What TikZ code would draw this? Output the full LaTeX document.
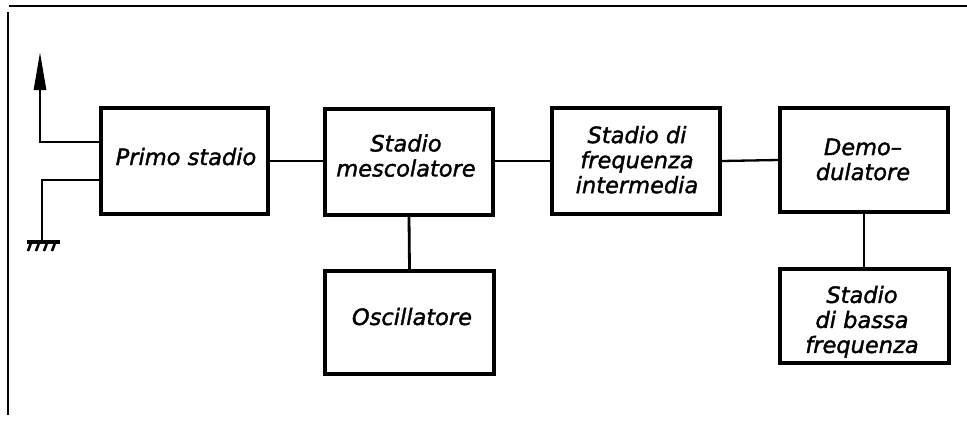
\documentclass[tikz,border=0pt]{standalone}
\usepackage{fontspec}
\setmainfont{DejaVu Sans}[ItalicFeatures={FakeBold=1.6}]
\usetikzlibrary{arrows.meta}
\tikzset{
  blk/.style={draw, line width=3.2pt, inner sep=0pt, minimum width=#1},
  lbl/.style={font=\fontsize{22.5}{25}\selectfont\itshape, align=center, inner sep=0pt},
  wire/.style={line width=2.8pt},
}
\begin{document}
\begin{tikzpicture}[x=1pt,y=-1pt]
\useasboundingbox (0,0) rectangle (967,421);
% frame
\draw[line width=2.4pt] (9,6) -- (967,6);
\draw[line width=2.4pt] (8,12) -- (8,415);
% boxes
\node[blk=167pt, minimum height=106pt] (primo) at (184.5,161) {};
\node[blk=168pt, minimum height=106pt] (mesc) at (409,162) {};
\node[blk=169pt, minimum height=103pt] (osc) at (409.5,322.5) {};
\node[blk=168pt, minimum height=106pt] (freq) at (636,161) {};
\node[blk=168pt, minimum height=104pt] (demo) at (864,160) {};
\node[blk=169pt, minimum height=94pt] (bassa) at (864.5,316) {};
% labels
\node[lbl, anchor=base] (tprimo) at (186,165) {Primo stadio};
\node[lbl] (tmesc) at (406,155.6) {Stadio\\mescolatore};
\node[lbl] (tosc) at (412,316.6) {Oscillatore};
\node[lbl] (tfreq) at (637,159.7) {Stadio di\\frequenza\\intermedia};
\node[lbl] (tdemo) at (863,159.5) {Demo–\\dulatore};
\node[lbl] (tbassa) at (862,321.7) {Stadio\\di bassa\\frequenza};
% connectors
\draw[wire] (primo.east) -- (primo.east -| mesc.west);
\draw[wire, line width=2.3pt] (mesc.east |- freq.east) -- (freq.west);
\draw[wire, line width=2.3pt] (freq.east) -- (demo.west);
\draw[wire] (mesc.south) -- (osc.north);
\draw[wire] (demo.south) -- (demo.south |- bassa.north);
% antenna
\coordinate (ya) at (0,142);
\coordinate (ab) at (40,142);
\coordinate (atip) at (40,52);
\draw[wire, -{Triangle[width=12pt,length=38pt]}] (primo.west |- ya) -- (ab) -- (atip);
% ground
\coordinate (yg) at (0,180);
\coordinate (gnd) at (42,242);
\draw[wire] (primo.west |- yg) -| (gnd);
\draw[line width=3.2pt] (27,242) -- (60,242);
\foreach \x in {31,39,47,55} \draw[line width=2.6pt] (\x,243) -- (\x-3,251);
\end{tikzpicture}
\end{document}
